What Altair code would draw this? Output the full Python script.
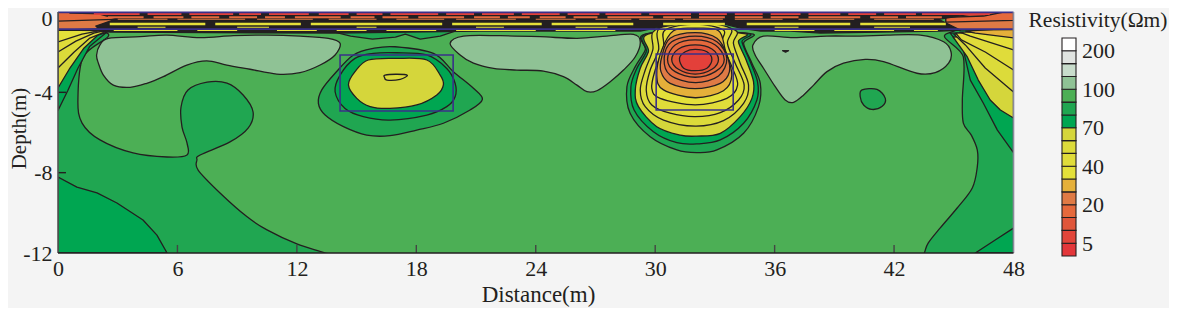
import altair as alt
import pandas as pd

FONT = "Liberation Serif"
INK = "#231f20"
BLUE = "#3a3089"

# ---------- colours of the 17 classes, bottom to top of the colour bar ----------
bar_colors = ["#e3363a", "#e2453a", "#e0563a", "#e5693c", "#df7a45", "#e5b03a", "#e4e03a", "#e0dc3a",
              "#dcdb3a", "#d5d63b", "#00a651", "#20a651", "#4caf55", "#8fc295", "#c8dccb", "#e0e3e0", "#ffffff"]
bar_tick_pos = [1, 4, 7, 10, 13, 16]
bar_tick_txt = ["5", "20", "40", "70", "100", "200"]
RED, RED2, ORR, OR2, ORG = "#e3403a", "#e0563a", "#e5693c", "#df7a45", "#e5b03a"
Y4, Y3, Y2, Y1 = "#e4e03a", "#e0dc3a", "#dcdb3a", "#d5d63b"
G1, G2, G3, PALE = "#00a651", "#20a651", "#4caf55", "#8fc295"

# ---------- contour regions: (distance m, depth m) ----------
left_dark = [(2.46,1.05),(1.26,2.24),(1.0,4.38),(1.21,5.53),(2.11,6.37),(3.77,7.02),(5.48,7.22),(6.48,7.12),(6.48,6.52),
             (6.23,5.73),(6.18,4.73),(6.53,3.88),(7.49,3.49),(8.49,3.54),(9.30,4.13),(9.80,4.98),(9.55,5.78),(8.64,6.47),
             (7.14,7.12),(6.98,7.37),(7.04,7.87),(8.14,9.01),(9.50,10.2),(10.5,10.85),(12.0,11.55),(13.42,12.0),(14.4,12.4),
             (6,14),(-1.5,13),(-1.5,1.05)]
left_corner = [(0,8.22),(.95,8.72),(1.96,9.01),(2.96,9.51),(4.27,10.36),(4.97,11.11),(5.48,12.0),(0,12)]
right_dark = [(44.72,1.05),(45.48,2.24),(45.43,4.38),(45.48,5.53),(45.88,6.13),(46.18,6.87),(46.18,7.72),(45.93,8.76),
              (45.17,9.76),(44.32,10.75),(43.72,11.5),(43.52,12),(43.3,12.5),(46,14),(49.5,13),(49.5,1.05)]
right_corner = [(46.08,12),(47.08,11.35),(48,10.76),(48,12)]
right_g1 = [(44.82,1.05),(45.48,1.89),(45.83,3.39),(46.48,4.53),(47.19,5.88),(48,7.0),(48,1.0)]
right_y1 = [(44.97,1.25),(45.68,2.24),(46.23,3.39),(46.83,4.38),(47.34,4.88),(48,5.28),(48,1.0)]
right_y2 = [(45.0,1.1),(45.58,1.64),(46.58,2.79),(48,3.98),(48,1.0)]
right_y3 = [(45.1,1.05),(45.38,1.39),(46.58,1.99),(48,2.89),(48,1.0)]
right_y4 = [(45.3,1.0),(45.83,1.2),(48,1.89),(48,1.0)]
right_org = [(45.6,.95),(46.08,1.05),(48,1.29),(48,.8)]
right_or2 = [(44.6,.9),(48,.88),(48,0),(44.6,0)]
right_orr = [(44.6,.5),(48,.42),(48,0),(44.6,0)]
right_red = [(43.5,.3),(46.5,.2),(47.5,0),(43.5,0)]
left_g1 = [(0,4.9),(.5,3.9),(1.0,2.8),(1.6,1.7),(2.4,1.05),(0,.9)]
left_y1 = [(0,3.78),(.6,2.79),(1.31,1.79),(2.01,1.15),(2.61,.95),(0,.9)]
left_y2 = [(0,2.79),(.8,2.0),(1.6,1.3),(2.4,.98),(0,.9)]
left_y3 = [(0,1.99),(.9,1.45),(1.8,1.05),(2.4,.92),(0,.9)]
left_y4 = [(0,1.49),(1.2,1.1),(2.2,.92),(0,.9)]
left_or2 = [(0,.9),(3.2,.8),(3.2,0),(0,0)]
left_orr = [(0,.45),(3.2,.35),(3.2,0),(0,0)]
left_red = [(.6,.06),(3.5,.12),(3.5,0),(.6,0)]
pale_a = [(2.53,1.31),(4.12,1.23),(5.46,1.15),(7.14,1.28),(8.81,1.18),(10.49,1.15),(12.16,1.2),(13.58,1.31),(14.17,1.56),
          (13.92,2.14),(13.17,2.64),(12.16,3.02),(10.99,3.09),(9.65,2.85),(8.48,2.64),(7.47,2.43),(6.47,2.64),(5.29,3.22),
          (4.46,3.55),(3.62,3.75),(2.78,3.64),(2.28,3.14),(2.03,2.55),(1.94,2.14),(2.11,1.64)]
pale_b = [(19.7,1.56),(20.37,1.2),(22.21,1.18),(24.22,1.23),(26.07,1.31),(27.57,1.2),(28.91,1.11),(29.25,1.48),(29.0,2.23),
          (28.41,2.89),(27.74,3.47),(27.07,3.92),(26.57,3.97),(26.07,3.64),(25.39,3.22),(24.39,2.94),(23.05,2.89),(21.88,2.81),
          (20.87,2.55),(20.2,2.14)]
pale_c = [(34.91,1.64),(35.44,1.2),(36.95,1.28),(38.63,1.2),(40.3,1.2),(41.64,1.15),(43.32,1.15),(44.49,1.48),(44.86,1.98),
          (44.74,2.55),(44.07,3.02),(43.15,3.05),(41.47,2.47),(40.55,2.36),(39.46,2.55),(38.63,2.97),(37.96,3.64),(37.46,4.13),
          (36.95,4.5),(36.53,4.38),(36.03,3.72),(35.44,2.8),(35.02,2.14)]
blob = [(40.39,3.88),(41.14,3.85),(41.56,4.3),(41.39,4.71),(40.88,4.85),(40.47,4.63),(40.3,4.22)]
speck = [(36.4,1.92),(36.7,1.92),(36.55,2.0)]
a1_outer = [(13.08,4.55),(13.25,3.88),(13.92,3.05),(14.84,2.14),(15.84,1.81),(16.93,1.73),(18.86,2.06),(19.86,2.97),(20.87,3.8),
            (21.32,4.35),(20.7,4.88),(19.36,5.54),(18.02,5.88),(16.68,6.16),(15.51,6.13),(14.34,5.71),(13.42,5.13)]
a1_mid = [(13.92,3.97),(14.17,3.14),(14.92,2.31),(15.84,2.06),(17.02,2.03),(18.53,2.14),(19.53,2.81),(19.95,3.55),(19.95,4.22),
          (19.53,4.71),(18.53,5.13),(16.68,5.38),(15.34,5.21),(14.42,4.8)]
a1_yel = [(14.59,3.63),(14.92,2.97),(15.59,2.39),(17.02,2.31),(18.53,2.39),(19.2,3.14),(19.36,3.63),(19.03,4.13),(18.02,4.63),
          (16.68,4.8),(15.68,4.71),(15.01,4.3)]
a1_core = [(16.43,3.14),(17.02,3.1),(17.55,3.15),(17.19,3.35),(16.52,3.39),(16.4,3.25)]
a2_g2 = [(29.66,1.06),(29.5,1.89),(29.0,2.72),(28.58,3.72),(28.74,5.04),(29.75,6.21),(31.09,6.87),(32.09,7.0),(33.1,6.87),
         (34.44,6.04),(35.19,4.71),(35.28,3.55),(34.86,2.55),(34.44,1.56),(34.69,1.06)]
a2_g1 = [(29.71,1.06),(29.55,1.98),(29.08,2.8),(28.78,3.72),(28.94,4.88),(29.91,5.96),(31.09,6.51),(32.09,6.57),(33.27,6.37),
         (34.44,5.54),(35.11,4.38),(35.14,3.47),(34.74,2.39),(34.36,1.48),(34.52,1.06)]
a2_y1 = [(29.78,1.06),(29.66,1.98),(29.25,2.8),(29.0,3.88),(29.16,4.71),(30.08,5.71),(31.26,6.13),(32.09,6.18),(33.27,6.04),
         (34.27,5.21),(34.86,4.3),(34.94,3.47),(34.57,2.39),(34.18,1.48),(34.36,1.06)]
a2_y2 = [(30.0,.9),(29.88,1.89),(29.5,2.89),(29.25,3.88),(29.5,4.71),(30.42,5.38),(32.01,5.68),(33.43,5.41),(34.44,4.55),
         (34.69,3.64),(34.27,2.55),(33.93,1.56),(34.02,.9),(32.01,.56)]
a2_y3 = [(30.22,.81),(30.17,1.89),(29.75,2.89),(29.55,3.88),(29.83,4.63),(30.75,5.04),(32.01,5.21),(33.27,5.01),(34.19,4.38),
         (34.47,3.64),(34.02,2.55),(33.63,1.56),(33.77,.81),(32.01,.53)]
a2_y4 = [(30.5,.9),(30.42,1.73),(30.0,2.89),(29.83,3.8),(30.25,4.3),(32.01,4.62),(33.6,4.3),(34.14,3.64),(33.85,2.72),
         (33.35,1.56),(33.43,.9),(32.01,.6)]
a2_org = [(30.92,.93),(30.33,1.89),(30.08,3.14),(30.42,3.88),(32.01,4.27),(33.43,3.92),(33.85,3.14),(33.52,1.89),(33.18,.93),(32.01,.81)]
a2_or2 = [(32.01,1.03),(30.75,1.31),(30.33,2.23),(30.29,2.97),(30.75,3.55),(32.01,3.82),(33.27,3.55),(33.73,2.97),(33.6,2.14),(33.1,1.31)]
a2_or3 = [(32.01,1.2),(30.83,1.48),(30.45,2.31),(30.75,3.14),(32.01,3.52),(33.18,3.19),(33.6,2.31),(33.1,1.48)]
a2_orr = [(32.01,1.39),(31.0,1.64),(30.62,2.36),(31.0,2.97),(32.01,3.25),(33.02,2.97),(33.47,2.36),(33.02,1.64)]
a2_red2 = [(32.01,1.64),(31.17,1.84),(30.83,2.36),(31.17,2.85),(32.01,3.09),(32.85,2.85),(33.18,2.36),(32.85,1.84)]
a2_red = [(31.22,2.31),(31.51,1.98),(32.01,1.86),(32.6,1.98),(32.85,2.36),(32.6,2.8),(32.01,2.92),(31.43,2.8)]
wave = [(13.7,.95),(14.7,1.2),(15.8,1.35),(16.95,1.25),(17.45,1.1),(18.2,1.35),(19.2,1.2),(19.95,.95)]
dark_band = [(3.2,.25),(44.0,.25),(45.33,.9),(44.32,.95),(41.3,1.0),(38.3,1.05),(36.8,.95),(35.3,.95),(34.27,.8),(33.27,.55),
             (32.26,.5),(31.41,.55),(30.9,.65),(30,.8),(29.25,.95),(21.2,.95),(13.92,1.05),(2.61,1.0),(2.11,.9),(1.9,.7)]
top_band = [(2.0,0),(46.0,0),(46.0,.08),(44.0,.4),(3.2,.4),(2.0,.08)]

shapes = [
    (left_dark, G2, "cardinal-closed"), (left_corner, G1, "linear-closed"),
    (right_dark, G2, "cardinal-closed"), (right_corner, G1, "linear-closed"),
    (right_g1, G1, "linear-closed"), (right_y1, Y1, "linear-closed"), (right_y2, Y2, "linear-closed"),
    (right_y3, Y3, "linear-closed"), (right_y4, Y4, "linear-closed"), (right_org, ORG, "linear-closed"),
    (right_or2, OR2, "linear-closed"), (right_orr, ORR, "linear-closed"), (right_red, RED2, "linear-closed"),
    (left_g1, G1, "linear-closed"), (left_y1, Y1, "linear-closed"), (left_y2, Y2, "linear-closed"),
    (left_y3, Y3, "linear-closed"), (left_y4, Y4, "linear-closed"), (left_or2, OR2, "linear-closed"),
    (left_orr, ORR, "linear-closed"), (left_red, RED2, "linear-closed"),
    (pale_a, PALE, "cardinal-closed"), (pale_b, PALE, "cardinal-closed"), (pale_c, PALE, "cardinal-closed"),
    (blob, G2, "cardinal-closed"), (speck, INK, "linear-closed"),
    (a1_outer, G2, "cardinal-closed"), (a1_mid, G1, "cardinal-closed"), (a1_yel, Y1, "cardinal-closed"),
    (a1_core, Y2, "cardinal-closed"),
    (a2_g2, G2, "cardinal-closed"), (a2_g1, G1, "cardinal-closed"), (a2_y1, Y1, "cardinal-closed"),
    (a2_y2, Y2, "cardinal-closed"), (a2_y3, Y3, "cardinal-closed"), (a2_y4, Y4, "cardinal-closed"),
    (a2_org, ORG, "cardinal-closed"), (a2_or2, OR2, "cardinal-closed"), (a2_or3, "#e36f40", "cardinal-closed"),
    (a2_orr, ORR, "cardinal-closed"), (a2_red2, RED2, "cardinal-closed"), (a2_red, RED, "cardinal-closed"),
    (wave, G2, "linear-closed"), (dark_band, INK, "linear-closed"), (top_band, INK, "linear-closed"),
]

# ---------- broken coloured stripes inside the dark near-surface band ----------
row_red = [(1.8,4.1),(4.5,6.2),(6.6,8.8),(9.1,10.2),(10.6,12.6),(13.1,14.6),(15.0,16.3),(16.7,19.1),(19.5,20.9),(21.3,22.9),(23.3,25.2),(25.6,27.2),(27.5,29.3),(29.7,31.8),(32.2,33.6),(34.0,35.4),(35.8,37.3),(37.7,39.3),(39.7,41.1),(41.5,43.1),(43.4,46.8)]
row_orr = [(2.5,4.3),(4.8,6.3),(6.7,8.1),(8.6,10.0),(10.4,11.4),(11.9,14.2),(14.7,15.9),(16.3,17.6),(18.1,20.4),(20.9,22.2),(22.6,23.7),(24.2,25.5),(25.9,27.1),(27.6,29.9),(30.4,31.8),(32.2,33.5),(34.0,35.4),(35.8,37.2),(37.7,40.3),(40.8,42.2),(42.6,44.4)]
row_or2 = [(3,5.5),(6,9.4),(10,12.8),(13.6,16),(17,19.4),(20,23),(24,26),(27,28.8),(29.2,31),(31.4,33.4),(34,36.4),(37.2,40),(41,44)]
row_yel = [(2.6,7.4),(7.9,12.2),(12.7,19.3),(19.8,24.3),(24.8,28.9),(30.4,33.5),(34.6,39.8),(40.3,44.6)]
row_yl2 = [(4,5.4),(9,10.6),(15,16),(21,22.4),(26,27.6),(36,37.2),(41,42.8)]
row_low = [(2.8,6),(7,9),(11,13),(14,15.5),(16.5,19),(20,24),(25,28),(36,38),(39,42),(43,44.2)]
row_spec = [(row_red, RED, .04, .15), (row_orr, ORR, .21, .31), (row_or2, OR2, .34, .38), (row_yel, Y4, .54, .66),
            (row_yl2, Y4, .74, .78), (row_low, Y4, .88, .94)]
dashes = pd.DataFrame([dict(x0=a, x1=b, d0=-d0, d1=-d1, c=c) for row, c, d0, d1 in row_spec for a, b in row])

# ---------- rule lines ----------
x_ticks = [0, 6, 12, 18, 24, 30, 36, 42, 48]
y_ticks = [0, -4, -8, -12]
boxes = pd.DataFrame({"x0": [14.17, 30.05], "x1": [19.85, 33.92], "d0": [-2.14, -2.09], "d1": [-4.93, -4.88]})
surface_lines = pd.DataFrame({"x0": [0, 0], "x1": [48, 48], "d": [-0.02, -0.85]})

sx = alt.Scale(domain=[0, 48], nice=False, zero=False)
sy = alt.Scale(domain=[-12, 0], nice=False, zero=False)
x_axis = alt.Axis(values=x_ticks, title="Distance(m)", grid=False, domain=False, ticks=False, labelPadding=5,
                  labelFontSize=22, titleFontSize=23, labelFont=FONT, titleFont=FONT, labelColor=INK, titleColor=INK,
                  titleFontWeight="normal", titleX=480, titleY=30, labelFlush=False, labelOverlap=False)
y_axis = alt.Axis(values=y_ticks, title="Depth(m)", grid=False, domain=False, ticks=False, labelPadding=6,
                  labelExpr="'' + datum.value", labelOffset=alt.expr("datum.value == 0 ? 6 : 0"),
                  labelFontSize=22, titleFontSize=21, labelFont=FONT, titleFont=FONT, labelColor=INK, titleColor=INK,
                  titleFontWeight="normal", titleX=-39, titleY=116, titleBaseline="middle", labelOverlap=False)

base = pd.DataFrame({"x0": [0], "x1": [48], "d0": [0], "d1": [-12]})
axis_layer = alt.Chart(base).mark_rect(opacity=0).encode(
    x=alt.X("x0:Q", scale=sx, axis=x_axis), x2="x1:Q",
    y=alt.Y("d0:Q", scale=sy, axis=y_axis), y2="d1:Q")
layers = [alt.Chart(base).mark_rect(color=G3).encode(
    x=alt.X("x0:Q", scale=sx, axis=None), x2="x1:Q",
    y=alt.Y("d0:Q", scale=sy, axis=None), y2="d1:Q")]

run_i, rows, sid = None, [], 0
def flush(rows, interp):
    return alt.Chart(pd.DataFrame(rows)).mark_line(
        filled=True, interpolate=interp, stroke=INK, strokeWidth=1.3, clip=True, strokeJoin="round"
    ).encode(x=alt.X("x:Q", scale=sx, axis=None), y=alt.Y("y:Q", scale=sy, axis=None),
             fill=alt.Fill("c:N", scale=None, legend=None), detail="id:N", order="s:Q")
for pts, col, interp in shapes:
    if run_i is not None and interp != run_i:
        layers.append(flush(rows, run_i)); rows = []
    run_i = interp
    rows += [dict(x=p[0], y=-p[1], c=col, id=f"{sid:03d}", s=i) for i, p in enumerate(pts)]
    sid += 1
layers.append(flush(rows, run_i))

plain_x = alt.X("x0:Q", scale=sx, axis=None)
layers.append(alt.Chart(dashes).mark_rect(clip=True).encode(
    x=plain_x, x2="x1:Q", y=alt.Y("d0:Q", scale=sy, axis=None), y2="d1:Q", fill=alt.Fill("c:N", scale=None, legend=None)))
layers.append(alt.Chart(boxes).mark_rect(fillOpacity=0, stroke=BLUE, strokeWidth=1.6).encode(
    x=plain_x, x2="x1:Q", y=alt.Y("d0:Q", scale=sy, axis=None), y2="d1:Q"))
layers.append(alt.Chart(surface_lines).mark_rule(color=BLUE, strokeWidth=1.8).encode(
    x=plain_x, x2="x1:Q", y=alt.Y("d:Q", scale=sy, axis=None)))
tx = pd.DataFrame({"x": x_ticks[1:-1]}); tx["a"] = -12; tx["b"] = -11.6
layers.append(alt.Chart(tx).mark_rule(color="#444444", strokeWidth=1.4).encode(
    x=alt.X("x:Q", scale=sx, axis=None), y=alt.Y("a:Q", scale=sy, axis=None), y2="b:Q"))
ty = pd.DataFrame({"y": [-4, -8]}); ty["a"] = 0; ty["b"] = 0.4
layers.append(alt.Chart(ty).mark_rule(color=INK, strokeWidth=1.4).encode(
    y=alt.Y("y:Q", scale=sy, axis=None), x=alt.X("a:Q", scale=sx, axis=None), x2="b:Q"))
frame_v = pd.DataFrame({"x": [0, 48], "a": [0, 0], "b": [-12, -12], "c": ["#555555", "#8a8a9a"]})
layers.append(alt.Chart(frame_v).mark_rule(strokeWidth=1.6).encode(
    x=alt.X("x:Q", scale=sx, axis=None), y=alt.Y("a:Q", scale=sy, axis=None), y2="b:Q",
    stroke=alt.Stroke("c:N", scale=None, legend=None)))
frame_h = pd.DataFrame({"y": [-12], "a": [0], "b": [48]})
layers.append(alt.Chart(frame_h).mark_rule(color=INK, strokeWidth=1.5).encode(
    y=alt.Y("y:Q", scale=sy, axis=None), x=alt.X("a:Q", scale=sx, axis=None), x2="b:Q"))
main = alt.layer(*layers)

# ---------- colour bar with its own scale ----------
bar = pd.DataFrame({"lo": list(range(17)), "hi": list(range(1, 18)), "c": bar_colors})
label_expr = "".join(f"datum.value=={p}?'{t}':" for p, t in zip(bar_tick_pos, bar_tick_txt)) + "''"
bar_scale = alt.Scale(domain=[0, 17], range=[244, 26], nice=False, zero=False)
bar_chart = alt.Chart(bar).mark_rect(stroke=INK, strokeWidth=1.1).encode(
    x=alt.value(1004), x2=alt.value(1018),
    y=alt.Y("lo:Q", scale=bar_scale, axis=alt.Axis(orient="right", values=bar_tick_pos, labelExpr=label_expr, title=None,
            grid=False, domain=False, ticks=False, offset=60, labelPadding=8, labelFontSize=22, labelFont=FONT,
            labelColor=INK, labelOverlap=False)),
    y2="hi:Q", fill=alt.Fill("c:N", scale=None, legend=None))
title_df = pd.DataFrame({"t": ["Resistivity(Ωm)"]})
bar_title = alt.Chart(title_df).mark_text(font=FONT, fontSize=21.5, color=INK, align="center", baseline="middle").encode(
    text="t:N", x=alt.value(1040), y=alt.value(9))

chart = alt.layer(main, axis_layer, bar_chart, bar_title).resolve_scale(y="independent", x="independent").resolve_axis(y="independent", x="independent").properties(
    width=955.5, height=241, background="#f4f4f4",
    autosize=alt.AutoSizeParams(type="none"),
    padding={"left": 50, "top": 4, "right": 155.5, "bottom": 55},
).configure_view(stroke=None)
chart.save("out.html", embed_options={"renderer": "svg", "actions": False})
